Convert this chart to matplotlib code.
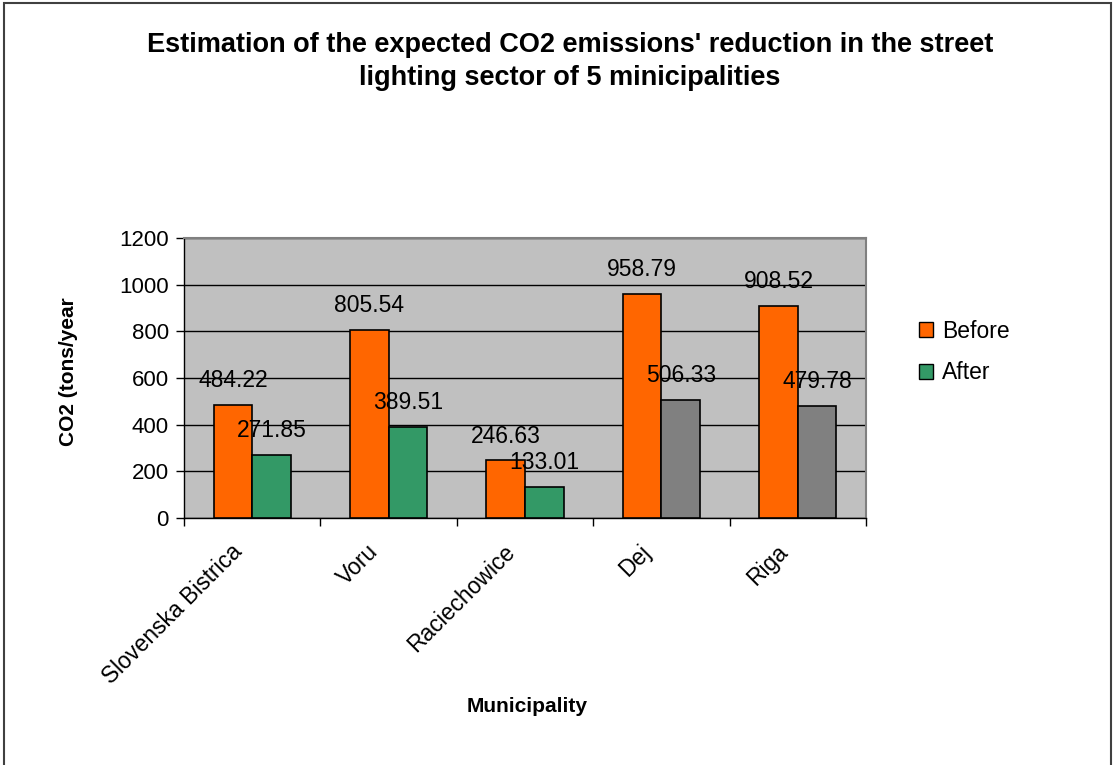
import matplotlib
matplotlib.use("Agg")
import matplotlib.pyplot as plt
import matplotlib.transforms as mtrans
from matplotlib.patches import Patch, Rectangle
import numpy as np

plt.rcParams['font.family'] = ['Liberation Sans', 'DejaVu Sans']

municipalities = ["Slovenska Bistrica", "Voru", "Raciechowice", "Dej", "Riga"]
before = [484.22, 805.54, 246.63, 958.79, 908.52]
after = [271.85, 389.51, 133.01, 506.33, 479.78]
after_colors = ["#339966", "#339966", "#339966", "#808080", "#808080"]
yticks = [0, 200, 400, 600, 800, 1000, 1200]

W, H = 1114, 765
fig = plt.figure(figsize=(W/100, H/100), dpi=100)
ax = fig.add_axes([184/W, 1-518/H, (866-184)/W, (518-238)/H])
ax.set_facecolor("#C0C0C0")

x = np.arange(len(municipalities))
bw = 0.283
ax.bar(x - bw/2, before, bw, color="#FF6600", edgecolor="black", linewidth=1.2, zorder=3)
ax.bar(x + bw/2, after, bw, color=after_colors, edgecolor="black", linewidth=1.2, zorder=3)

for xi, v in zip(x - bw/2, before):
    ax.annotate(f"{v:.2f}", (xi, v), xytext=(0, 17.5), textcoords="offset points",
                ha="center", va="center", fontsize=16.5, zorder=4)
for xi, v in zip(x + bw/2, after):
    ax.annotate(f"{v:.2f}", (xi, v), xytext=(0, 17.5), textcoords="offset points",
                ha="center", va="center", fontsize=16.5, zorder=4)

ax.set_xlim(-0.5, len(municipalities) - 0.5)
ax.set_ylim(0, 1200)
ax.set_yticks(yticks)
ax.set_yticklabels([str(t) for t in yticks], fontsize=16)
ax.yaxis.grid(True, color="black", linewidth=1, zorder=1)
ax.set_axisbelow(True)
ax.tick_params(axis='y', length=6, width=1, direction='out', pad=5)

ax.set_xticks(np.arange(-0.5, len(municipalities), 1.0))
ax.set_xticklabels([])
ax.set_xticks(x, minor=True)
ax.set_xticklabels(municipalities, minor=True, rotation=45, ha="right", va="center",
                   rotation_mode="anchor", fontsize=16.5)
ax.tick_params(axis='x', which='major', length=6, width=1, direction='out')
ax.tick_params(axis='x', which='minor', length=0, pad=22)
shift = mtrans.ScaledTranslation(-14/100, 0, fig.dpi_scale_trans)
for lab in ax.get_xticklabels(minor=True):
    lab.set_transform(lab.get_transform() + shift)

for s in ["top", "right"]:
    ax.spines[s].set_color("#808080")
    ax.spines[s].set_linewidth(1.5)
for s in ["left", "bottom"]:
    ax.spines[s].set_color("black")
    ax.spines[s].set_linewidth(1)

fig.text(68/W, 1-372/H, "CO2 (tons/year", fontsize=15, fontweight="bold",
         ha="center", va="center", rotation=90)
fig.text(527/W, 1-706/H, "Municipality", fontsize=15, fontweight="bold",
         ha="center", va="center")

fig.text(570/W, 1-45/H, "Estimation of the expected CO2 emissions' reduction in the street",
         fontsize=19.5, fontweight="bold", ha="center", va="center")
fig.text(570/W, 1-78/H, "lighting sector of 5 minicipalities",
         fontsize=19.5, fontweight="bold", ha="center", va="center")

handles = [Patch(facecolor="#FF6600", edgecolor="black"),
           Patch(facecolor="#339966", edgecolor="black")]
leg = fig.legend(handles, ["Before", "After"], loc="center left",
                 bbox_to_anchor=(898/W, 1-352/H), frameon=False, fontsize=16.5,
                 handlelength=0.62, handleheight=0.62, handletextpad=0.4, labelspacing=0.8)

fig.patches.append(Rectangle((4/W, -0.01), (1111-4)/W, 1-3/H + 0.01, transform=fig.transFigure,
                             fill=False, edgecolor="#404040", linewidth=1.5))

fig.savefig("out.png", dpi=100)
